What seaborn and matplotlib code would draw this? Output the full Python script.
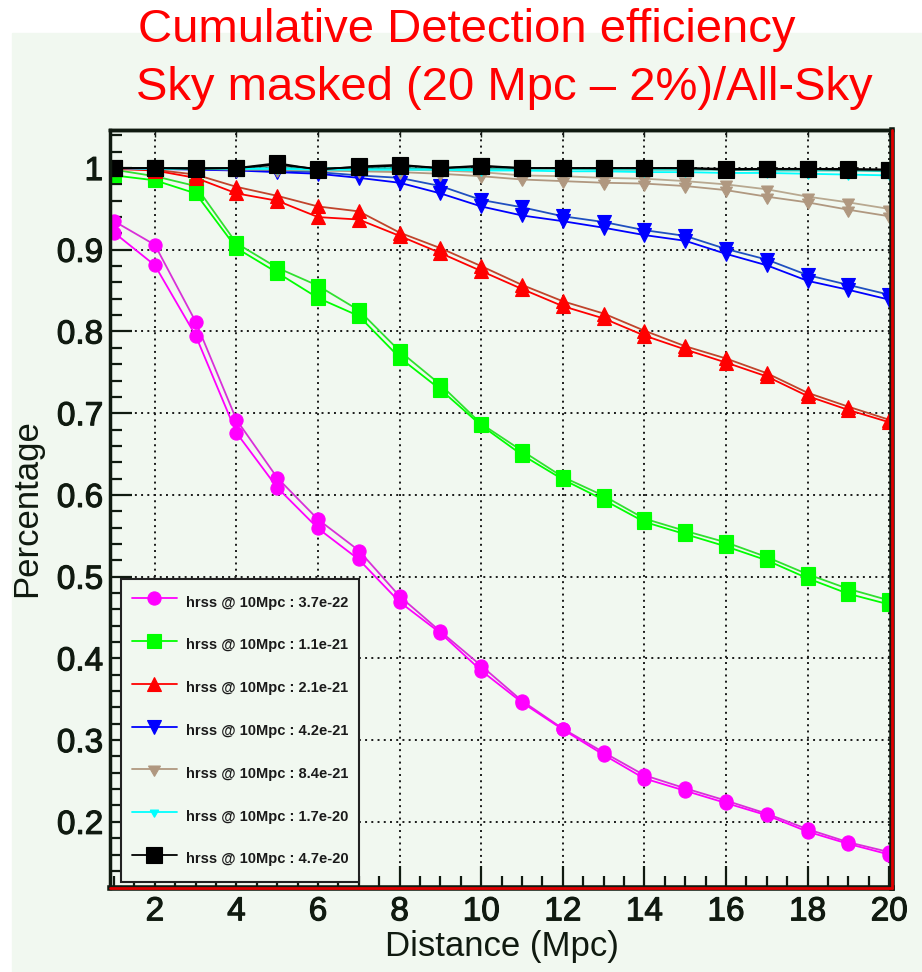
import matplotlib
matplotlib.use("Agg")
import matplotlib.pyplot as plt
import matplotlib.patheffects as pe
from matplotlib.patches import Rectangle
from matplotlib.ticker import MultipleLocator
import seaborn as sns

# distance (Mpc)
distance = [1, 2, 3, 4, 5, 6, 7, 8, 9, 10, 11, 12, 13, 14, 15, 16, 17, 18, 19, 20]

# efficiency curves, two per amplitude (upper / lower of each pair)
eff_37e22_a = [0.935, 0.906, 0.812, 0.692, 0.621, 0.570, 0.532, 0.476, 0.433, 0.391,
               0.348, 0.314, 0.285, 0.257, 0.241, 0.226, 0.210, 0.191, 0.175, 0.163]
eff_37e22_b = [0.921, 0.881, 0.795, 0.676, 0.609, 0.559, 0.521, 0.469, 0.431, 0.385,
               0.346, 0.313, 0.282, 0.253, 0.238, 0.223, 0.208, 0.188, 0.173, 0.160]
eff_11e21_a = [0.998, 0.990, 0.978, 0.908, 0.878, 0.856, 0.826, 0.776, 0.735, 0.687,
               0.654, 0.622, 0.599, 0.571, 0.556, 0.542, 0.524, 0.503, 0.485, 0.471]
eff_11e21_b = [0.991, 0.985, 0.969, 0.902, 0.872, 0.841, 0.819, 0.768, 0.729, 0.685,
               0.649, 0.619, 0.594, 0.567, 0.552, 0.537, 0.520, 0.498, 0.479, 0.466]
eff_21e21_a = [1.000, 0.998, 0.992, 0.977, 0.966, 0.953, 0.947, 0.921, 0.902, 0.880,
               0.857, 0.837, 0.822, 0.801, 0.782, 0.767, 0.749, 0.725, 0.708, 0.692]
eff_21e21_b = [0.999, 0.997, 0.988, 0.969, 0.960, 0.940, 0.937, 0.917, 0.896, 0.874,
               0.852, 0.831, 0.816, 0.795, 0.778, 0.762, 0.745, 0.721, 0.704, 0.689]
eff_42e21_a = [1.000, 1.000, 0.999, 0.998, 0.997, 0.995, 0.991, 0.988, 0.978, 0.961,
               0.952, 0.941, 0.934, 0.924, 0.917, 0.901, 0.888, 0.869, 0.857, 0.845]
eff_42e21_b = [1.000, 0.999, 0.998, 0.997, 0.995, 0.993, 0.988, 0.982, 0.969, 0.953,
               0.942, 0.935, 0.927, 0.918, 0.911, 0.895, 0.881, 0.862, 0.851, 0.839]
eff_84e21_a = [1.000, 1.000, 1.000, 0.999, 0.999, 0.999, 0.998, 0.998, 0.997, 0.995,
               0.991, 0.990, 0.988, 0.987, 0.984, 0.980, 0.974, 0.965, 0.958, 0.950]
eff_84e21_b = [1.000, 0.999, 0.999, 0.998, 0.998, 0.997, 0.996, 0.995, 0.993, 0.990,
               0.986, 0.984, 0.982, 0.981, 0.978, 0.973, 0.965, 0.958, 0.949, 0.941]
eff_17e20_a = [1.000, 1.000, 1.000, 1.000, 1.000, 1.000, 1.000, 1.000, 0.999, 0.999,
               0.999, 0.999, 0.998, 0.998, 0.998, 0.998, 0.997, 0.997, 0.997, 0.996]
eff_17e20_b = [1.000, 0.999, 0.999, 0.999, 0.999, 0.998, 0.998, 0.998, 0.998, 0.997,
               0.997, 0.996, 0.996, 0.995, 0.995, 0.994, 0.994, 0.993, 0.992, 0.991]
eff_47e20_a = [1.000, 1.000, 0.999, 1.000, 1.006, 0.998, 1.002, 1.004, 1.000, 1.003,
               1.000, 1.000, 1.000, 1.000, 1.000, 0.998, 0.999, 0.999, 0.999, 0.998]
eff_47e20_b = [1.000, 1.000, 1.000, 1.000, 1.004, 0.999, 1.001, 1.003, 1.000, 1.002,
               1.000, 1.000, 1.000, 1.000, 1.000, 0.999, 0.999, 0.999, 0.998, 0.998]

labels = ["hrss @ 10Mpc : 3.7e-22", "hrss @ 10Mpc : 1.1e-21", "hrss @ 10Mpc : 2.1e-21",
          "hrss @ 10Mpc : 4.2e-21", "hrss @ 10Mpc : 8.4e-21", "hrss @ 10Mpc : 1.7e-20",
          "hrss @ 10Mpc : 4.7e-20"]

xticks = [2, 4, 6, 8, 10, 12, 14, 16, 18, 20]
yticks = [0.2, 0.3, 0.4, 0.5, 0.6, 0.7, 0.8, 0.9, 1.0]
ytick_labels = ["0.2", "0.3", "0.4", "0.5", "0.6", "0.7", "0.8", "0.9", "1"]

bg = "#f1f8f0"
ink = "#101a10"

sns.set_style("ticks")
plt.rcParams["font.family"] = ["Liberation Sans", "DejaVu Sans"]

fig = plt.figure(figsize=(9.22, 9.72), dpi=100)
fig.patches.append(Rectangle((12 / 922, 0), 1, 1 - 33 / 972, transform=fig.transFigure,
                             color=bg, zorder=-5))
ax = fig.add_axes([0.1193, 0.0864, 0.8482, 0.7798])
ax.set_facecolor(bg)
ax.set_zorder(2)

# (curve a, curve b, colour a, colour b (legend colour), marker, size)
series = [
    (eff_37e22_a, eff_37e22_b, "#d830d8", "#ff00ff", "o", 9.5),
    (eff_11e21_a, eff_11e21_b, "#30e030", "#00ff00", "s", 9.5),
    (eff_21e21_a, eff_21e21_b, "#c0442c", "#ff0000", "^", 10),
    (eff_42e21_a, eff_42e21_b, "#2050c0", "#0000ff", "v", 10),
    (eff_84e21_a, eff_84e21_b, "#b8a890", "#b09880", (3, 1, 180), 10),
    (eff_17e20_a, eff_17e20_b, "#20c0b0", "#00ffff", (3, 1, 180), 7),
    (eff_47e20_a, eff_47e20_b, "#000000", "#000000", "s", 11),
]

handles = []
for ya, yb, ca, cb, mk, ms in series:
    sns.lineplot(x=distance, y=ya, color=ca, marker=mk, markersize=ms,
                 markerfacecolor=cb, markeredgecolor=cb, markeredgewidth=0.8,
                 lw=1.3, ax=ax, legend=False)
    sns.lineplot(x=distance, y=yb, color=cb, marker=mk, markersize=ms,
                 markeredgecolor=cb, markeredgewidth=0.8, lw=1.3, ax=ax, legend=False)
    handles.append(ax.lines[-1])

ax.set_xlim(0.9, 20.07)
ax.set_ylim(0.119, 1.0465)
ax.set_xticks(xticks, labels=[str(t) for t in xticks])
ax.set_yticks(yticks, labels=ytick_labels)
ax.xaxis.set_minor_locator(MultipleLocator(0.5))
ax.yaxis.set_minor_locator(MultipleLocator(0.02))

ax.set_axisbelow(True)
ax.grid(True, which="major", color="#1a1a1a", linestyle=(0, (1, 2.2)), linewidth=1.4)

ax.tick_params(axis="both", which="major", direction="in", length=16, width=1.6,
               color=ink, labelsize=24, labelcolor=ink)
ax.tick_params(axis="both", which="minor", direction="in", length=8.5, width=1.6, color=ink)
ax.tick_params(axis="x", which="major", pad=6)
ax.tick_params(axis="y", which="major", pad=5)
for lab in ax.get_xticklabels() + ax.get_yticklabels():
    lab.set_path_effects([pe.withStroke(linewidth=0.8, foreground=ink)])

top = ax.secondary_xaxis("top")
top.set_xticks(xticks)
top.tick_params(direction="in", length=5, width=1, color=ink, labeltop=False)
top.spines["top"].set_linewidth(2.5)
top.spines["top"].set_color(ink)

for side in ["left", "top", "right", "bottom"]:
    ax.spines[side].set_color(ink)
    ax.spines[side].set_linewidth(2.5)
ax.spines["right"].set_linewidth(4)
ax.spines["bottom"].set_linewidth(4)
ax.plot([0, 1], [0, 0], transform=ax.transAxes, color="#e00000", lw=2, clip_on=False, zorder=6)
ax.plot([1, 1], [0, 1], transform=ax.transAxes, color="#e00000", lw=2, clip_on=False, zorder=6)

ax.set_xlabel("Distance (Mpc)", fontsize=25, color=ink)
ax.set_ylabel("Percentage", fontsize=25, color=ink)
ax.xaxis.set_label_coords(0.501, -0.055)
ax.yaxis.set_label_coords(-0.085, 0.501)

leg = ax.legend(handles, labels, loc="lower left", bbox_to_anchor=(0.014, 0.008),
                borderaxespad=0, frameon=True, fancybox=False, edgecolor="#222222",
                facecolor=bg, framealpha=1, prop={"weight": "bold", "size": 10.5},
                handlelength=3.1, handletextpad=0.6, handleheight=2.2,
                labelspacing=1.26, borderpad=0.75)
leg.get_frame().set_linewidth(1.5)
for t in leg.get_texts():
    t.set_color("#1a1a1a")

fig.text(138 / 922, 1 - 42 / 972, "Cumulative Detection efficiency", color="red",
         fontsize=34, ha="left", va="baseline")
fig.text(136 / 922, 1 - 100 / 972, "Sky masked (20 Mpc \u2013 2%)/All-Sky", color="red",
         fontsize=34, ha="left", va="baseline")

fig.savefig("out.png", dpi=100)
